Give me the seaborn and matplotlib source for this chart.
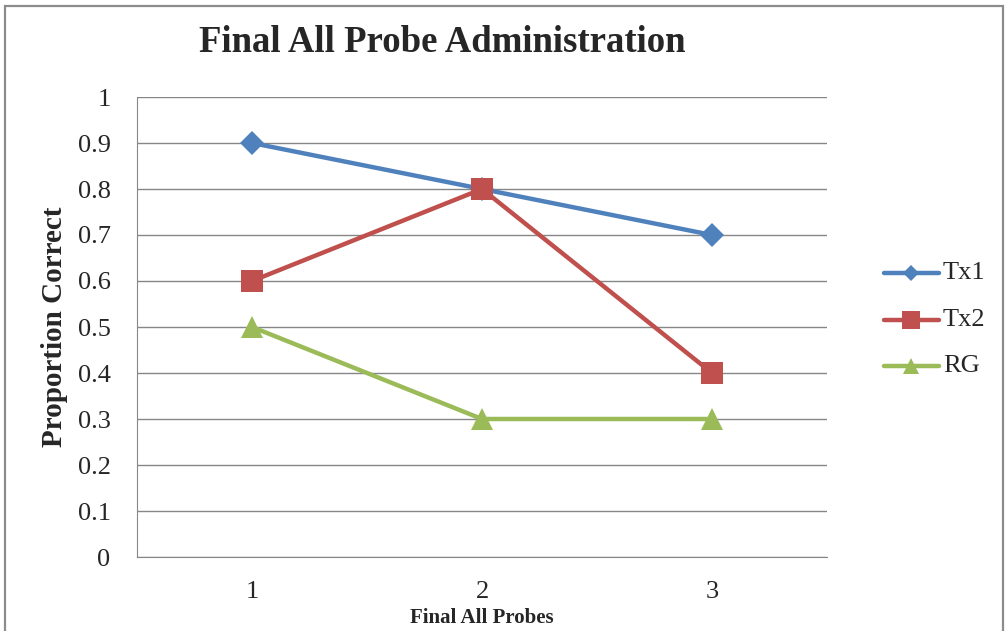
import matplotlib
matplotlib.use('Agg')
import matplotlib.pyplot as plt
import numpy as np
import pandas as pd
import seaborn as sns

probes = [1, 2, 3]
tx1 = [0.9, 0.8, 0.7]
tx2 = [0.6, 0.8, 0.4]
rg = [0.5, 0.3, 0.3]
series_names = ['Tx1', 'Tx2', 'RG']
colors = ['#4F81BD', '#C0504D', '#9BBB59']
markers = ['D', 's', '^']
marker_sizes = [12.5, 15.5, 16]
legend_marker_sizes = [8, 13, 12]

df = pd.DataFrame({
    'probe': probes * 3,
    'value': tx1 + tx2 + rg,
    'group': [n for n in series_names for _ in probes],
})

sns.set_style('white')
plt.rcParams['font.family'] = ['Liberation Serif', 'DejaVu Serif']

fig = plt.figure(figsize=(10.05, 6.31), dpi=100)
ax = fig.add_axes([137/1005, 1-557/631, 690/1005, 460/631])

for n, c, m, ms in zip(series_names, colors, markers, marker_sizes):
    sns.lineplot(data=df[df['group'] == n], x='probe', y='value', color=c,
                 marker=m, markersize=ms, markeredgewidth=0, linewidth=3.2,
                 ax=ax, legend=False)

ax.set_xlim(0.5, 3.5)
ax.set_ylim(0, 1)
ax.set_yticks(np.arange(0, 1.01, 0.1))
ax.set_yticklabels(['0'] + ['%.1f' % v for v in np.arange(0.1, 0.95, 0.1)] + ['1'])
ax.set_xticks(probes)
ax.set_xticks([0.5, 1.5, 2.5, 3.5], minor=True)
ax.tick_params(axis='x', which='major', length=0, labelsize=19, pad=17)
ax.tick_params(axis='x', which='minor', length=7, color='#868686', direction='out')
ax.tick_params(axis='y', length=7, color='#868686', direction='out', labelsize=19, pad=12)
ax.yaxis.grid(True, color='#868686', linewidth=1)
for s in ['top', 'right']:
    ax.spines[s].set_visible(False)
for s in ['left', 'bottom']:
    ax.spines[s].set_color('#868686')
ax.set_xlabel('Final All Probes', fontsize=15, fontweight='bold')
ax.xaxis.set_label_coords((482-137)/690, -(618-557)/460)
ax.xaxis.label.set_va('center')
ax.set_ylabel('Proportion Correct', fontsize=21, fontweight='bold')
ax.yaxis.set_label_coords(-(137-55)/690, 0.5)
ax.yaxis.label.set_va('center')

fig.text(442/1005, 1-42/631, 'Final All Probe Administration', ha='center', va='center',
         fontsize=26.5, fontweight='bold')

# legend
for i, (n, c, m, ms) in enumerate(zip(series_names, colors, markers, legend_marker_sizes)):
    y = 1 - (273 + 46.5*i)/631
    fig.add_artist(plt.Line2D([884/1005, 939/1005], [y, y], color=c, linewidth=3.2))
    fig.add_artist(plt.Line2D([911/1005], [y], color=c, marker=m, markersize=ms, markeredgewidth=0))
    fig.text(943/1005, y, n, va='center', fontsize=19)

fig.add_artist(plt.Rectangle((5/1005, -0.05), 998/1005, 1.05-6/631, fill=False, edgecolor='#8c8c8c',
                             linewidth=1.6, transform=fig.transFigure))

fig.savefig('out.png', dpi=100)
